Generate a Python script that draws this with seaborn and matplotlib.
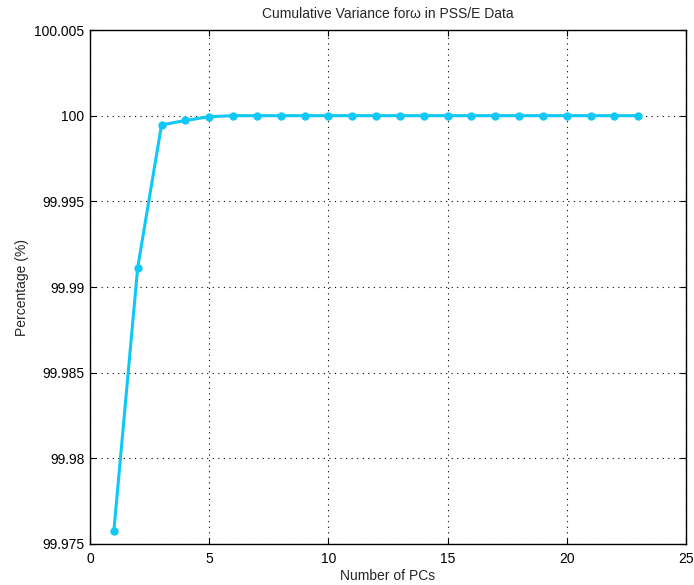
import matplotlib
matplotlib.use("Agg")
import matplotlib.pyplot as plt
import seaborn as sns
import pandas as pd

num_pcs = list(range(1, 24))
cum_var = [99.97576, 99.99113, 99.99946, 99.99972, 99.99994] + [100.0] * 18
x_ticks = [0, 5, 10, 15, 20, 25]
y_ticks = [99.975, 99.98, 99.985, 99.99, 99.995, 100, 100.005]
y_labels = ["99.975", "99.98", "99.985", "99.99", "99.995", "100", "100.005"]

sns.set_theme(style="white")
plt.rcParams['font.family'] = ['Liberation Sans', 'DejaVu Sans']

df = pd.DataFrame({"pc": num_pcs, "var": cum_var})

fig = plt.figure(figsize=(6.94, 5.85), dpi=100)
ax = fig.add_axes([0.1297, 0.0701, 0.8588, 0.8786])
sns.lineplot(data=df, x="pc", y="var", ax=ax, color="#0fc8f5", linewidth=2.2,
             marker="o", markersize=6, markeredgewidth=0)

ax.set_xlim(0, 25)
ax.set_ylim(99.975, 100.005)
ax.set_xticks(x_ticks)
ax.set_xticklabels([str(t) for t in x_ticks], fontsize=10)
ax.set_yticks(y_ticks)
ax.set_yticklabels(y_labels, fontsize=10)
ax.grid(True, linestyle=(0, (1, 4)), color="black", linewidth=0.8)
ax.tick_params(direction="in", length=4, width=0.8, colors="black", top=True, right=True,
               bottom=True, left=True)
ax.tick_params(axis="x", pad=6)
ax.tick_params(axis="y", pad=4)
for s in ax.spines.values():
    s.set_color("black")
    s.set_linewidth(1.0)
ax.set_xlabel("Number of PCs", fontsize=10, labelpad=2)
ax.set_ylabel("Percentage (%)", fontsize=10, labelpad=4)
ax.set_title("Cumulative Variance for\u03c9 in PSS/E Data", fontsize=10, pad=9)

fig.savefig("out.png", dpi=100, facecolor="white")
